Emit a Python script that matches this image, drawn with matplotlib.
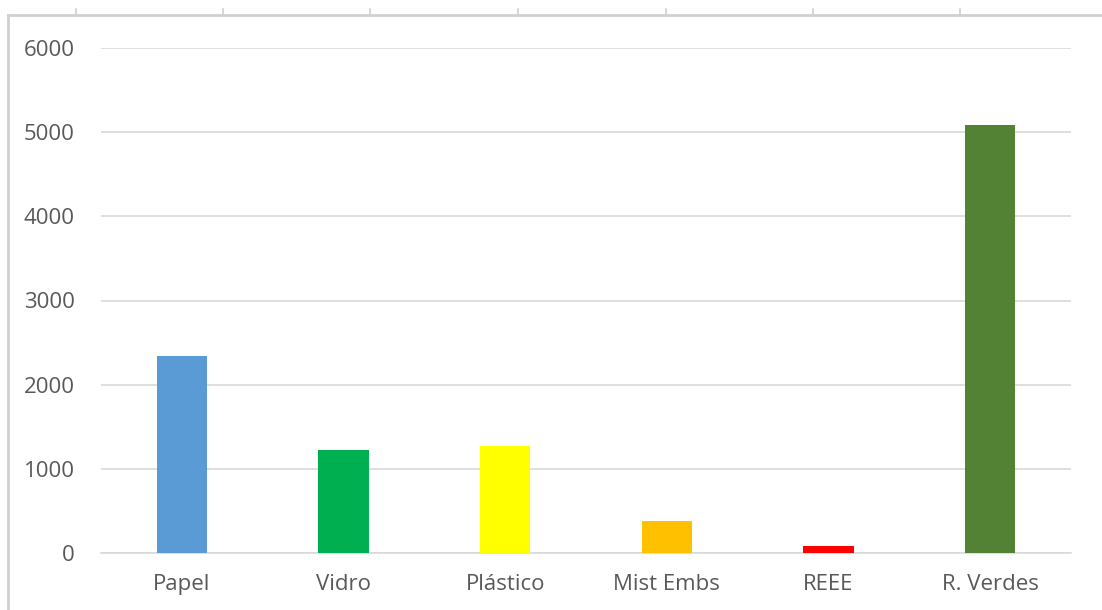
import matplotlib
matplotlib.use("Agg")
import matplotlib.pyplot as plt
from matplotlib.lines import Line2D

categories = ["Papel", "Vidro", "Plástico", "Mist Embs", "REEE", "R. Verdes"]
values = [2340, 1225, 1270, 380, 87, 5085]
colors = ["#5B9BD5", "#00B050", "#FFFF00", "#FFC000", "#FF0000", "#548235"]
yticks = [0, 1000, 2000, 3000, 4000, 5000, 6000]

W, H = 1102, 610
fig = plt.figure(figsize=(W / 100, H / 100), dpi=100)
plt.rcParams['font.family'] = ['Open Sans', 'DejaVu Sans']

# axes placement in pixels
x0, x1 = 101, 1071
y0, y1 = 553, 48
ax = fig.add_axes([x0 / W, 1 - y0 / H, (x1 - x0) / W, (y0 - y1) / H])

x = list(range(len(categories)))
ax.bar(x, values, width=0.31, color=colors, zorder=3)
ax.set_xlim(-0.5, len(categories) - 0.5)
ax.set_ylim(0, 6000)
ax.set_yticks(yticks)
ax.set_yticklabels([str(t) for t in yticks])
ax.set_xticks(x)
ax.set_xticklabels(categories)
ax.grid(axis="y", color="#D9D9D9", linewidth=1.2, zorder=0)
for s in ["top", "right", "left"]:
    ax.spines[s].set_visible(False)
ax.spines["bottom"].set_color("#D9D9D9")
ax.spines["bottom"].set_linewidth(1.2)
ax.tick_params(axis="both", length=0, labelsize=16, labelcolor="#595959")
ax.tick_params(axis="y", pad=19)
ax.tick_params(axis="x", pad=15)

# outer frame (spreadsheet-like border)
fig.add_artist(Line2D([8 / W, 1], [1 - 15 / H, 1 - 15 / H], color="#D0D0D0", linewidth=2, transform=fig.transFigure))
fig.add_artist(Line2D([8 / W, 8 / W], [0, 1 - 15 / H], color="#D0D0D0", linewidth=2, transform=fig.transFigure))
for tx in [76, 223, 370, 518, 666, 813, 960]:
    fig.add_artist(Line2D([tx / W, tx / W], [1 - 15 / H, 1 - 9 / H], color="#D0D0D0", linewidth=1.2, transform=fig.transFigure))

fig.savefig("out.png", dpi=100)
